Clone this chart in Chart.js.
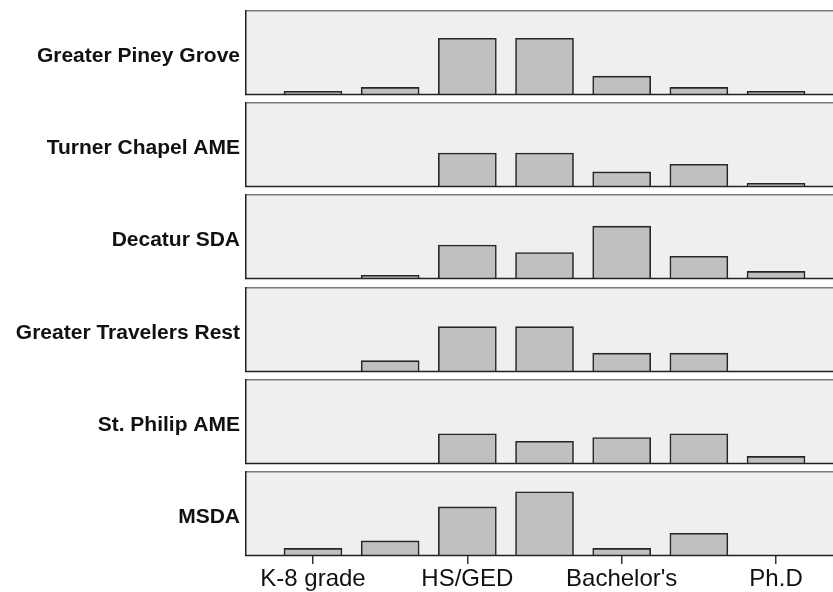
<!DOCTYPE html>
<html lang="en">
<head>
    <meta charset="UTF-8">
    <title>Education level by church</title>
    <script src="https://cdn.jsdelivr.net/npm/chart.js"></script>
    <style>
        body { margin: 0; background: #fff; }
        #wrap { position: relative; width: 833px; height: 592px; overflow: hidden; }
        .panel { position: absolute; left: 0; width: 833px; }
    </style>
</head>
<body>

    <div id="wrap"></div>

    <script>
        // categories on the x axis (only every other one gets a label in the original)
        const categories = ['K-8 grade', 'Some high school', 'HS/GED', 'Some college', "Bachelor's", "Master's", 'Ph.D'];

        // one panel per church, counts per education level
        const churches = ['Greater Piney Grove', 'Turner Chapel AME', 'Decatur SDA', 'Greater Travelers Rest', 'St. Philip AME', 'MSDA'];
        const greaterPineyGrove    = [1, 2, 15, 15, 5, 2, 1];
        const turnerChapelAME      = [0, 0, 9, 9, 4, 6, 1];
        const decaturSDA           = [0, 1, 9, 7, 14, 6, 2];
        const greaterTravelersRest = [0, 3, 12, 12, 5, 5, 0];
        const stPhilipAME          = [0, 0, 8, 6, 7, 8, 2];
        const msda                 = [2, 4, 13, 17, 2, 6, 0];
        const counts = [greaterPineyGrove, turnerChapelAME, decaturSDA, greaterTravelersRest, stPhilipAME, msda];

        const yMax = 22.5;
        const panelTops = [10, 102, 194, 287, 379, 471];
        const panelHeight = 85;

        // draws the grey panel box and the church name to the left of it
        const panelFrame = {
            id: 'panelFrame',
            beforeDraw(chart) {
                const { ctx, chartArea: a } = chart;
                ctx.save();
                ctx.fillStyle = '#efefef';
                ctx.fillRect(a.left, a.top, a.right - a.left + 5, a.bottom - a.top);
                ctx.restore();
            },
            afterDatasetsDraw(chart, args, opts) {
                const { ctx, chartArea: a } = chart;
                ctx.save();
                ctx.lineWidth = 1.5;
                ctx.strokeStyle = '#7a7a7a';
                ctx.beginPath();
                ctx.moveTo(a.left, a.top + 0.75);
                ctx.lineTo(a.right + 5, a.top + 0.75);
                ctx.stroke();
                ctx.strokeStyle = '#222';
                ctx.beginPath();
                ctx.moveTo(a.left + 0.75, a.top);
                ctx.lineTo(a.left + 0.75, a.bottom);
                ctx.moveTo(a.left, a.bottom - 0.5);
                ctx.lineTo(a.right + 5, a.bottom - 0.5);
                ctx.stroke();

                ctx.fillStyle = '#111';
                ctx.font = 'bold 21px "Liberation Sans", Arial, sans-serif';
                ctx.textAlign = 'right';
                ctx.textBaseline = 'middle';
                ctx.fillText(opts.name, a.left - 5, (a.top + a.bottom) / 2 + 4);
                ctx.restore();
            }
        };

        const wrap = document.getElementById('wrap');

        churches.forEach(function(name, i) {
            const last = i === churches.length - 1;
            const boxHeight = last ? (592 - panelTops[i] + 2) : (panelHeight + 4);
            const box = document.createElement('div');
            box.className = 'panel';
            box.style.top = (panelTops[i] - 2) + 'px';
            box.style.height = boxHeight + 'px';
            const canvas = document.createElement('canvas');
            box.appendChild(canvas);
            wrap.appendChild(box);

            new Chart(canvas, {
                type: 'bar',
                data: {
                    datasets: [{
                        data: counts[i].map((v, k) => ({ x: k + 1, y: v })),
                        backgroundColor: '#c0c0c0',
                        borderColor: '#262626',
                        borderWidth: 1.6,
                        barThickness: 58
                    }]
                },
                options: {
                    responsive: true,
                    maintainAspectRatio: false,
                    animation: false,
                    layout: { padding: { left: 245, right: 0, top: 2, bottom: last ? 0 : 2 } },
                    plugins: {
                        legend: { display: false },
                        tooltip: { enabled: false },
                        panelFrame: { name: name }
                    },
                    scales: {
                        x: {
                            type: 'linear',
                            display: last,
                            offset: false,
                            min: 0.119,
                            max: 7.738,
                            afterBuildTicks: axis => {
                                axis.ticks = categories.map((c, k) => ({ value: k + 1 })).filter((t, k) => k % 2 === 0);
                            },
                            afterFit: scale => {
                                if (last) scale.height = boxHeight - 2 - panelHeight;
                            },
                            grid: {
                                display: true,
                                drawOnChartArea: false,
                                offset: false,
                                tickLength: 8,
                                color: '#333',
                                lineWidth: 1.5
                            },
                            border: { display: false },
                            ticks: {
                                padding: 1,
                                color: '#111',
                                maxRotation: 0,
                                font: { family: '"Liberation Sans", Arial, sans-serif', size: 24 },
                                callback: value => categories[value - 1]
                            }
                        },
                        y: {
                            display: false,
                            min: 0,
                            max: yMax
                        }
                    }
                },
                plugins: [panelFrame]
            });
        });
    </script>

</body>
</html>
